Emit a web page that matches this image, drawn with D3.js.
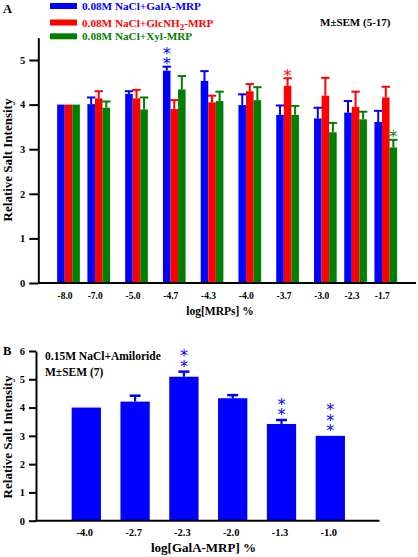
<!DOCTYPE html>
<html>
<head>
<meta charset="utf-8">
<script src="https://cdn.jsdelivr.net/npm/d3@7"></script>
<style>
  html, body { margin: 0; padding: 0; background: #fff; }
  svg { display: block; }
  text { font-family: "Liberation Serif", "Times New Roman", serif; font-weight: bold; }
</style>
</head>
<body>
<svg id="chart" width="418" height="557"></svg>
<script>
// ---------- DATA ----------
// Panel A
const catsA = ["-8.0", "-7.0", "-5.0", "-4.7", "-4.3", "-4.0", "-3.7", "-3.0", "-2.3", "-1.7"];
const seriesA = ["0.08M NaCl+GalA-MRP", "0.08M NaCl+GlcNH2-MRP", "0.08M NaCl+Xyl-MRP"];
const galA    = [4.00, 4.01, 4.24, 4.76, 4.53, 3.99, 3.77, 3.69, 3.82, 3.61];
const galAErr = [0.00, 0.15, 0.06, 0.09, 0.22, 0.24, 0.21, 0.24, 0.26, 0.25];
const glc     = [4.00, 4.14, 4.14, 3.90, 4.05, 4.30, 4.42, 4.20, 3.95, 4.16];
const glcErr  = [0.00, 0.16, 0.19, 0.20, 0.15, 0.16, 0.17, 0.40, 0.34, 0.24];
const xyl     = [4.00, 3.93, 3.89, 4.34, 4.08, 4.10, 3.77, 3.38, 3.67, 3.04];
const xylErr  = [0.00, 0.14, 0.27, 0.30, 0.21, 0.29, 0.20, 0.21, 0.17, 0.17];
const starsGalA = [0, 0, 0, 2, 0, 0, 0, 0, 0, 0];
const starsGlc  = [0, 0, 0, 0, 0, 0, 1, 0, 0, 0];
const starsXyl  = [0, 0, 0, 0, 0, 0, 0, 0, 0, 1];
const ticksA = [0, 1, 2, 3, 4, 5];

// Panel B
const catsB  = ["-4.0", "-2.7", "-2.3", "-2.0", "-1.3", "-1.0"];
const valsB  = [4.00, 4.21, 5.09, 4.33, 3.42, 3.00];
const errB   = [0.00, 0.21, 0.18, 0.11, 0.14, 0.00];
const starsB = [0, 0, 2, 0, 2, 3];
const ticksB = [0, 1, 2, 3, 4, 5, 6];

// ---------- LAYOUT / STYLE ----------
const colors = ["#0000ff", "#ff0000", "#008000"];
const groupGapUnits = [1, 2, 2, 2, 2, 2, 2, 1, 1]; // blank bar-widths between groups
const svg = d3.select("#chart");

// vertical stack of significance asterisks, drawn as ONE text element:
// the text runs downward (rotate 90) while each glyph is turned back upright.
function starStack(g, cx, yTop, n, gap, lift) {
  const fs = 16, adv = 0.5 * fs;
  const cyTop = yTop - lift - (n - 1) * gap;   // centre of the topmost star
  const X = cx - 0.25 * fs, Y = cyTop + 0.56 * fs;
  g.append("text")
    .attr("transform", `translate(${X},${Y}) rotate(90)`)
    .attr("rotate", "-90")
    .attr("stroke", "none")
    .style("font-family", "'DejaVu Sans', sans-serif")
    .style("font-weight", "normal")
    .style("font-size", fs + "px")
    .style("letter-spacing", (gap - adv) + "px")
    .text("*".repeat(n));
}

// ================= PANEL A =================
const yA = d3.scaleLinear().domain([0, 5.5]).range([283, 37.7]);
const xA = d3.scaleLinear().domain([-2.5, 47.5]).range([38.3, 416]);
const groupStart = [0];
groupGapUnits.forEach((g, i) => groupStart.push(groupStart[i] + 3 + g));
const barW = xA(1) - xA(0);

const dataA = [
  { vals: galA, errs: galAErr, stars: starsGalA },
  { vals: glc,  errs: glcErr,  stars: starsGlc },
  { vals: xyl,  errs: xylErr,  stars: starsXyl }
];

const gA = svg.append("g");
dataA.forEach((s, si) => {
  const recs = s.vals.map((v, i) => ({ v, e: s.errs[i], st: s.stars[i], i }));
  const g = gA.append("g").attr("fill", colors[si]).attr("stroke", colors[si]);
  g.selectAll("rect").data(recs).join("rect")
    .attr("x", d => xA(groupStart[d.i] + si))
    .attr("y", d => yA(d.v))
    .attr("width", barW)
    .attr("height", d => yA(0) - yA(d.v))
    .attr("stroke", "none");
  const eb = recs.filter(d => d.e > 0);
  g.selectAll("line.v").data(eb).join("line").attr("class", "v")
    .attr("x1", d => xA(groupStart[d.i] + si + 0.5))
    .attr("x2", d => xA(groupStart[d.i] + si + 0.5))
    .attr("y1", d => yA(d.v))
    .attr("y2", d => yA(d.v + d.e))
    .attr("stroke-width", 2);
  g.selectAll("line.c").data(eb).join("line").attr("class", "c")
    .attr("x1", d => xA(groupStart[d.i] + si + 0.5) - 4.2)
    .attr("x2", d => xA(groupStart[d.i] + si + 0.5) + 4.2)
    .attr("y1", d => yA(d.v + d.e))
    .attr("y2", d => yA(d.v + d.e))
    .attr("stroke-width", 2);
  recs.filter(d => d.st > 0).forEach(d => {
    starStack(g, xA(groupStart[d.i] + si + 0.5), yA(d.v + d.e), d.st, 10.3, 6.5);
  });
});

// axes A
const axA = svg.append("g").attr("transform", `translate(${xA.range()[0]},0)`)
  .call(d3.axisLeft(yA).tickValues(ticksA).tickSize(9).tickSizeOuter(0).tickPadding(4).tickFormat(d3.format("d")));
axA.select(".domain").attr("stroke-width", 2);
axA.selectAll(".tick line").attr("stroke-width", 2);
axA.selectAll(".tick text").style("font-size", "10.5px").style("font-family", "'Liberation Serif', serif").style("font-weight", "bold");
svg.append("line")
  .attr("x1", xA.range()[0]).attr("x2", xA.range()[1])
  .attr("y1", yA(0)).attr("y2", yA(0))
  .attr("stroke", "#000").attr("stroke-width", 2);

svg.append("g").selectAll("text").data(catsA).join("text")
  .attr("x", (d, i) => xA(groupStart[i] + 1.5) - 3.5)
  .attr("y", 298.5)
  .attr("text-anchor", "middle")
  .style("font-size", "9.5px")
  .text(d => d);

svg.append("text").attr("x", 220).attr("y", 314.5).attr("text-anchor", "middle")
  .style("font-size", "11.5px").text("log[MRPs] %");
svg.append("text").attr("transform", "translate(12,160) rotate(-90)").attr("text-anchor", "middle")
  .style("font-size", "13px").text("Relative Salt Intensity");
svg.append("text").attr("x", 3).attr("y", 13).style("font-size", "12.5px").text("A");

// legend A
const legY = [6, 22.5, 36.3];
seriesA.forEach((name, i) => {
  svg.append("rect").attr("x", 50).attr("y", legY[i] - 3).attr("width", 27).attr("height", 6).attr("fill", colors[i]);
  const t = svg.append("text").attr("x", 82).attr("y", legY[i] + 4).attr("fill", colors[i]).style("font-size", "11.2px");
  const m = name.match(/^(.*NH)(2)(.*)$/);
  if (m) {
    t.append("tspan").text(m[1]);
    t.append("tspan").attr("dy", 3).style("font-size", "9px").text(m[2]);
    t.append("tspan").attr("dy", -3).text(m[3]);
  } else {
    t.text(name);
  }
});
svg.append("text").attr("x", 320).attr("y", 25.5).style("font-size", "11px").text("M\u00B1SEM (5-17)");

// ================= PANEL B =================
const yB = d3.scaleLinear().domain([0, 6]).range([520.7, 351]);
const xB = d3.scaleBand().domain(catsB).range([61.9, 354.7]).paddingInner(0.4).paddingOuter(0.2);
const recsB = valsB.map((v, i) => ({ c: catsB[i], v, e: errB[i], st: starsB[i] }));
const gB = svg.append("g").attr("fill", colors[0]).attr("stroke", colors[0]);
gB.selectAll("rect").data(recsB).join("rect")
  .attr("x", d => xB(d.c)).attr("y", d => yB(d.v))
  .attr("width", xB.bandwidth()).attr("height", d => yB(0) - yB(d.v))
  .attr("stroke", "none");
const ebB = recsB.filter(d => d.e > 0);
gB.selectAll("line.v").data(ebB).join("line").attr("class", "v")
  .attr("x1", d => xB(d.c) + xB.bandwidth() / 2).attr("x2", d => xB(d.c) + xB.bandwidth() / 2)
  .attr("y1", d => yB(d.v)).attr("y2", d => yB(d.v + d.e)).attr("stroke-width", 2.2);
gB.selectAll("line.c").data(ebB).join("line").attr("class", "c")
  .attr("x1", d => xB(d.c) + xB.bandwidth() / 2 - 5.5).attr("x2", d => xB(d.c) + xB.bandwidth() / 2 + 5.5)
  .attr("y1", d => yB(d.v + d.e)).attr("y2", d => yB(d.v + d.e)).attr("stroke-width", 2.5);
recsB.filter(d => d.st > 0).forEach(d => {
  starStack(gB, xB(d.c) + xB.bandwidth() / 2, yB(d.v + d.e), d.st, 10.2, 9);
});

const axB = svg.append("g").attr("transform", "translate(36,0)")
  .call(d3.axisLeft(yB).tickValues(ticksB).tickSize(7).tickSizeOuter(0).tickPadding(4).tickFormat(d3.format("d")));
axB.select(".domain").attr("stroke-width", 2);
axB.selectAll(".tick line").attr("stroke-width", 2);
axB.selectAll(".tick text").style("font-size", "10.5px").style("font-family", "'Liberation Serif', serif").style("font-weight", "bold");
svg.append("line").attr("x1", 36).attr("x2", 379.5).attr("y1", yB(0)).attr("y2", yB(0))
  .attr("stroke", "#000").attr("stroke-width", 2);

svg.append("g").selectAll("text").data(catsB).join("text")
  .attr("x", d => xB(d) + xB.bandwidth() / 2 - 1.5)
  .attr("y", 535.5)
  .attr("text-anchor", "middle")
  .style("font-size", "10.5px")
  .text(d => d);

svg.append("text").attr("x", 203.5).attr("y", 552).attr("text-anchor", "middle")
  .style("font-size", "13px").text("log[GalA-MRP] %");
svg.append("text").attr("transform", "translate(12,437) rotate(-90)").attr("text-anchor", "middle")
  .style("font-size", "13px").text("Relative Salt Intensity");
svg.append("text").attr("x", 3).attr("y", 355).style("font-size", "12.5px").text("B");
svg.append("text").attr("x", 45).attr("y", 360).style("font-size", "11.5px").text("0.15M NaCl+Amiloride");
svg.append("text").attr("x", 45).attr("y", 375.5).style("font-size", "11.5px").text("M\u00B1SEM (7)");
</script>
</body>
</html>
